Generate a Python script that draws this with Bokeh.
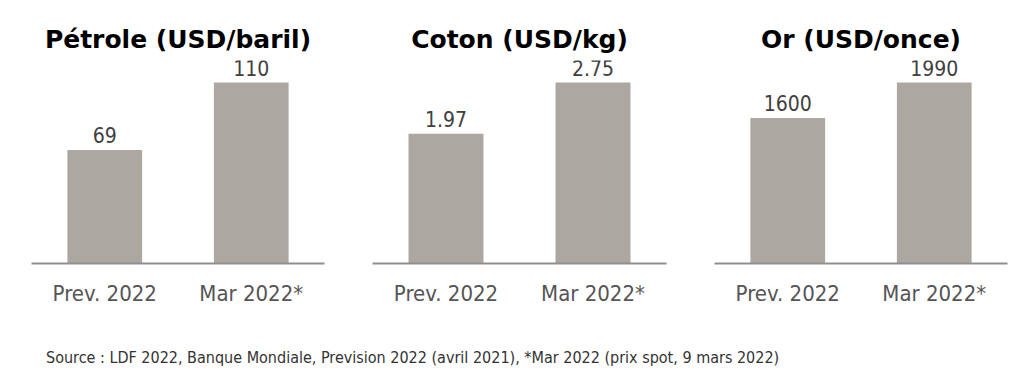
from bokeh.plotting import figure
from bokeh.layouts import row, column
from bokeh.models import Div, ColumnDataSource, Range1d
from bokeh.core.properties import value
from bokeh.embed import file_html
from bokeh.resources import INLINE

categories = ["Prev. 2022", "Mar 2022*"]
titles = ["Pétrole (USD/baril)", "Coton (USD/kg)", "Or (USD/once)"]
petrole = [69, 110]
coton = [1.97, 2.75]
orr = [1600, 1990]
petrole_labels = ["69", "110"]
coton_labels = ["1.97", "2.75"]
or_labels = ["1600", "1990"]
source_text = "Source : LDF 2022, Banque Mondiale, Prevision 2022 (avril 2021), *Mar 2022 (prix spot, 9 mars 2022)"

BAR = "#aca7a1"
AXIS = "#8f8f8f"
FONT = "DejaVu Sans Condensed"

series = [(petrole, petrole_labels), (coton, coton_labels), (orr, or_labels)]
borders = [(31, 23, 347), (25, 23, 342), (25, 17, 335)]

H = 320
TOP = 60
BOTTOM = 57
frame_h = H - TOP - BOTTOM

figs = []
for (vals, labs), title, (bl, br, w) in zip(series, titles, borders):
    src = ColumnDataSource(dict(x=categories, top=vals, lab=labs))
    ymax = max(vals) * frame_h / 181.0
    p = figure(x_range=categories, y_range=Range1d(0, ymax), width=w, height=H,
               output_backend="svg", toolbar_location=None, title=title,
               min_border_left=bl, min_border_right=br, min_border_top=TOP,
               min_border_bottom=BOTTOM, y_axis_location=None)
    p.title.align = "center"
    p.title.text_font = "DejaVu Sans"
    p.title.text_font_size = "25px"
    p.title.text_font_style = "bold"
    p.title.text_color = "#000000"
    p.title.standoff = 14
    p.vbar(x="x", top="top", width=0.51, source=src, fill_color=BAR, line_color=None)
    p.text(x="x", y="top", text="lab", source=src, text_align="center",
           text_baseline="bottom", y_offset=-7, text_font=value(FONT),
           text_font_size="21px", text_color="#404040")
    p.xgrid.visible = False
    p.ygrid.visible = False
    p.outline_line_color = None
    p.xaxis.axis_line_color = AXIS
    p.xaxis.axis_line_width = 2
    p.xaxis.major_tick_line_color = None
    p.xaxis.minor_tick_line_color = None
    p.xaxis.major_label_text_font = FONT
    p.xaxis.major_label_text_font_size = "22px"
    p.xaxis.major_label_text_color = "#555555"
    p.xaxis.major_label_standoff = 11
    p.x_range.range_padding = 0
    figs.append(p)

div = Div(text=f'<div style="font-family:\'{FONT}\'; font-size:16px; color:#333333; white-space:nowrap;">{source_text}</div>',
          width=1000, height=50, styles={"margin-left": "46px", "margin-top": "27px"})

layout = column(row(*figs), div)
open("out.html", "w").write(file_html(layout, INLINE))
